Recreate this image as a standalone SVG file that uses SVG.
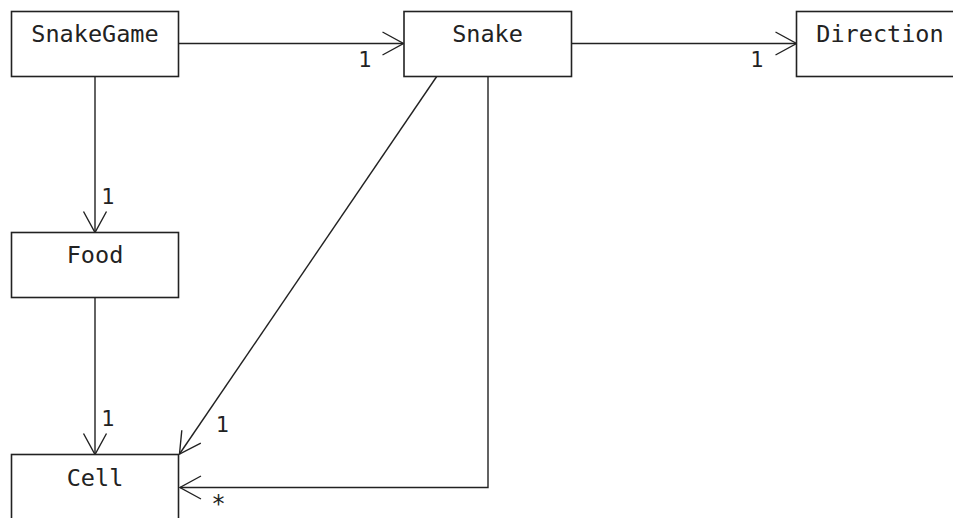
<svg xmlns="http://www.w3.org/2000/svg" width="953" height="518" viewBox="0 0 953 518">
<style>
.box{fill:#fff;stroke:#222;stroke-width:1.6}
.name{font-family:"DejaVu Sans Mono",monospace;font-size:23.5px;fill:#222;text-anchor:middle}
.edge{fill:none;stroke:#222;stroke-width:1.4}
.head{fill:none;stroke:#222;stroke-width:1.4}
.mult{font-family:"DejaVu Sans",sans-serif;font-size:21px;fill:#222}
.star{font-family:"DejaVu Sans",sans-serif;font-size:24px;fill:#222}
</style>
<rect width="953" height="518" fill="#fff"/>
<g id="connectors">
<g id="e-snakegame-snake">
<line class="edge" x1="178.5" y1="43.5" x2="403.5" y2="43.5"/>
<polyline class="head" points="382.5,32 403.5,43.5 382.5,55"/>
<text class="mult" x="358.5" y="67">1</text>
</g>
<g id="e-snake-direction">
<line class="edge" x1="571.5" y1="43.5" x2="796.5" y2="43.5"/>
<polyline class="head" points="775.5,32 796.5,43.5 775.5,55"/>
<text class="mult" x="750.5" y="67">1</text>
</g>
<g id="e-snakegame-food">
<line class="edge" x1="95" y1="76.5" x2="95" y2="232.5"/>
<polyline class="head" points="83.5,211.5 95,232.5 106.5,211.5"/>
<text class="mult" x="101.5" y="203.5">1</text>
</g>
<g id="e-food-cell">
<line class="edge" x1="95" y1="297.5" x2="95" y2="454.5"/>
<polyline class="head" points="83.5,433.5 95,454.5 106.5,433.5"/>
<text class="mult" x="101.5" y="426">1</text>
</g>
<g id="e-snake-cell-1">
<line class="edge" x1="436.7" y1="76.5" x2="179.5" y2="454"/>
<polyline class="head" points="200.8,443.1 179.5,454 181.8,430.2"/>
<text class="mult" x="216" y="432">1</text>
</g>
<g id="e-snake-cell-many">
<polyline class="edge" points="488,76.5 488,487.5 180,487.5"/>
<polyline class="head" points="201,476 180,487.5 201,499"/>
<text class="star" x="212.5" y="512">*</text>
</g>
</g>
<g id="SnakeGame">
<rect class="box" x="11.5" y="11.5" width="167" height="65"/>
<text class="name" x="95" y="41.5">SnakeGame</text>
</g>
<g id="Snake">
<rect class="box" x="404" y="11.5" width="167.5" height="65"/>
<text class="name" x="487.5" y="41.5">Snake</text>
</g>
<g id="Direction">
<rect class="box" x="796.5" y="11.5" width="167" height="65"/>
<text class="name" x="880" y="41.5">Direction</text>
</g>
<g id="Food">
<rect class="box" x="11.5" y="232.5" width="167" height="65"/>
<text class="name" x="95" y="262.5">Food</text>
</g>
<g id="Cell">
<rect class="box" x="11.5" y="454.5" width="167" height="65"/>
<text class="name" x="95" y="485.5">Cell</text>
</g>
</svg>
